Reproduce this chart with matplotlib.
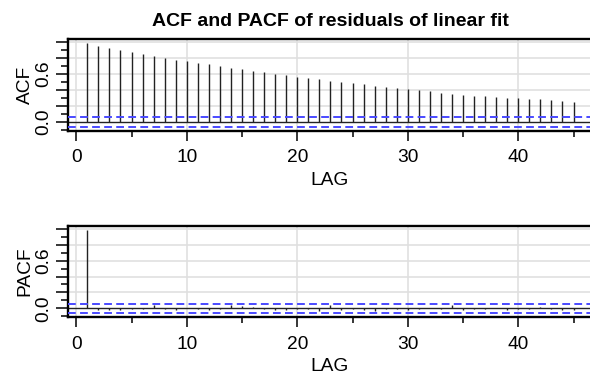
import matplotlib
matplotlib.use("Agg")
import matplotlib.pyplot as plt
from matplotlib.ticker import FixedLocator, FuncFormatter
import numpy as np

plt.rcParams['font.family'] = ['Liberation Sans', 'DejaVu Sans']

lags = list(range(1, 46))
acf_vals = [0.984, 0.956, 0.931, 0.902, 0.876, 0.851, 0.826, 0.802, 0.781, 0.760,
            0.740, 0.720, 0.695, 0.672, 0.660, 0.641, 0.628, 0.606, 0.585, 0.568,
            0.550, 0.532, 0.516, 0.500, 0.486, 0.470, 0.456, 0.440, 0.428, 0.412,
            0.400, 0.382, 0.366, 0.352, 0.340, 0.328, 0.320, 0.314, 0.302, 0.295,
            0.290, 0.282, 0.275, 0.266, 0.253]
pacf_vals = [0.980, -0.020, -0.020, -0.020, -0.010, -0.010, 0.040, -0.010, -0.015, 0.010,
             -0.010, -0.020, -0.010, 0.040, 0.030, 0.020, -0.010, -0.020, -0.025, -0.010,
             -0.010, -0.035, 0.040, -0.015, -0.010, -0.020, -0.035, -0.010, -0.010, -0.015,
             -0.010, 0.010, -0.010, 0.045, -0.020, -0.010, -0.010, 0.010, -0.020, -0.010,
             -0.010, 0.015, -0.010, -0.015, -0.025]
conf_bound = 0.058
title = "ACF and PACF of residuals of linear fit"
ylabels = ["ACF", "PACF"]
xlabel = "LAG"

W, H = 590, 374
fig = plt.figure(figsize=(W / 100, H / 100), dpi=100)

def px_axes(left, top, right, bottom):
    return fig.add_axes([left / W, 1 - bottom / H, (right - left) / W, (bottom - top) / H])

ax1 = px_axes(68, 39, 592, 131)
ax2 = px_axes(68, 225.7, 592, 317.3)

FS = 13.8
for ax, vals, yl in [(ax1, acf_vals, ylabels[0]), (ax2, pacf_vals, ylabels[1])]:
    ax.set_xlim(-0.75, 46.67)
    ax.set_ylim(-0.112, 1.038)
    # grid
    for gx in [0, 10, 20, 30, 40]:
        ax.axvline(gx, color='#e0e0e0', lw=1.2, zorder=0)
    for gy in [0.2, 0.4, 0.6, 0.8, 1.0]:
        ax.axhline(gy, color='#e0e0e0', lw=1.2, zorder=0)
    ax.vlines(lags, 0, vals, color='#222222', lw=1.0, zorder=2)
    ax.axhline(0, color='#222222', lw=1.0, zorder=2)
    for s in [conf_bound, -conf_bound]:
        ax.axhline(s, color='#4a4aff', lw=1.4, dashes=(4.0, 2.2), zorder=3)
    for sp in ax.spines.values():
        sp.set_linewidth(1.7)
        sp.set_color('black')
    ax.xaxis.set_major_locator(FixedLocator([0, 10, 20, 30, 40]))
    ax.xaxis.set_minor_locator(FixedLocator([5, 15, 25, 35, 45]))
    ax.yaxis.set_major_locator(FixedLocator([0.0, 0.2, 0.4, 0.6, 0.8, 1.0]))
    ax.yaxis.set_minor_locator(FixedLocator([-0.1, 0.1, 0.3, 0.5, 0.7, 0.9]))
    ax.yaxis.set_major_formatter(FuncFormatter(
        lambda v, p: ("%.1f" % v) if abs(v) < 1e-9 or abs(v - 0.6) < 1e-9 else ""))
    ax.tick_params(axis='x', which='major', length=7.2, width=1.1, pad=6,
                   labelsize=FS, direction='out')
    ax.tick_params(axis='x', which='minor', length=4.3, width=1.1, direction='out')
    ax.tick_params(axis='y', which='major', length=9, width=1.1, pad=2,
                   labelsize=FS, direction='out', labelrotation=90)
    ax.tick_params(axis='y', which='minor', length=4.8, width=1.1, direction='out')
    for lab in ax.get_yticklabels():
        lab.set_va('center')
    ax.set_xlabel(xlabel, fontsize=FS, labelpad=4)
    ax.set_ylabel(yl, fontsize=FS, labelpad=1.5)

fig.text(330 / W, 1 - 21.7 / H, title, ha='center', va='center',
         fontsize=14, fontweight='bold')

fig.savefig("out.png", dpi=100)
